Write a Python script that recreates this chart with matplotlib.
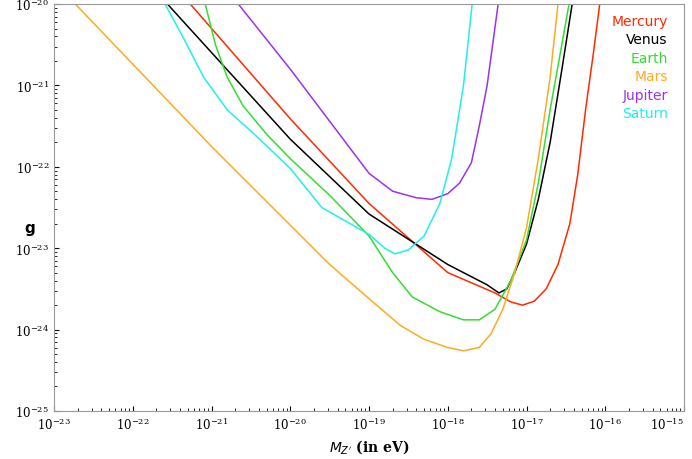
import numpy as np
import matplotlib.pyplot as plt

# log10 of mass (eV) and log10 of g
mercury_x = [-21.27, -20.0, -19.0, -18.0, -17.4, -17.2, -17.05, -16.9, -16.75, -16.6, -16.45, -16.35, -16.25, -16.15, -16.07]
mercury_y = [-20.0, -21.41, -22.45, -23.3, -23.55, -23.66, -23.7, -23.65, -23.5, -23.2, -22.7, -22.1, -21.3, -20.6, -20.0]
venus_x = [-21.56, -20.0, -19.0, -18.0, -17.5, -17.35, -17.25, -17.15, -17.0, -16.85, -16.7, -16.55, -16.42]
venus_y = [-20.0, -21.66, -22.58, -23.2, -23.45, -23.55, -23.5, -23.3, -22.95, -22.4, -21.7, -20.8, -20.0]
earth_x = [-21.08, -20.95, -20.8, -20.6, -20.3, -20.0, -19.5, -19.0, -18.7, -18.45, -18.1, -17.8,
           -17.6, -17.4, -17.2, -17.0, -16.85, -16.7, -16.57, -16.46]
earth_y = [-20.0, -20.5, -20.9, -21.25, -21.6, -21.9, -22.35, -22.85, -23.3, -23.6, -23.78, -23.88,
           -23.88, -23.75, -23.4, -22.9, -22.2, -21.3, -20.6, -20.0]
mars_x = [-22.73, -21.0, -19.5, -19.0, -18.6, -18.3, -18.0, -17.8, -17.6, -17.45, -17.3, -17.15,
          -17.0, -16.85, -16.7, -16.6]
mars_y = [-20.0, -21.75, -23.2, -23.62, -23.95, -24.12, -24.22, -24.26, -24.22, -24.05, -23.75, -23.3,
          -22.75, -21.9, -20.9, -20.0]
jupiter_x = [-20.66, -20.0, -19.0, -18.7, -18.4, -18.2, -18.0, -17.85, -17.7, -17.6, -17.5, -17.43, -17.36]
jupiter_y = [-20.0, -20.8, -22.08, -22.3, -22.38, -22.4, -22.33, -22.2, -21.95, -21.5, -21.0, -20.5, -20.0]
saturn_x = [-21.59, -21.35, -21.1, -20.8, -20.4, -20.0, -19.6, -19.0, -18.8, -18.67, -18.5, -18.3,
            -18.1, -17.95, -17.8, -17.69]
saturn_y = [-20.0, -20.43, -20.9, -21.3, -21.65, -22.02, -22.5, -22.83, -23.0, -23.07, -23.02, -22.85,
            -22.45, -21.9, -21.0, -20.0]

series = [
    ("Mercury", mercury_x, mercury_y, "#ff2a00"),
    ("Venus", venus_x, venus_y, "black"),
    ("Earth", earth_x, earth_y, "#33dd33"),
    ("Mars", mars_x, mars_y, "#ffaa22"),
    ("Jupiter", jupiter_x, jupiter_y, "#9933ee"),
    ("Saturn", saturn_x, saturn_y, "#22eeee"),
]

fig = plt.figure(figsize=(6.92, 4.6), dpi=100)
ax = fig.add_axes([54 / 692, 48 / 460, 630 / 692, 407 / 460])

for name, xs, ys, c in series:
    ax.plot(10.0 ** np.array(xs), 10.0 ** np.array(ys), color=c, lw=1.1)

ax.set_xscale("log")
ax.set_yscale("log")
ax.set_xlim(1e-23, 1e-15)
ax.set_ylim(1e-25, 1e-20)
ax.set_xticks([10.0 ** k for k in range(-23, -14)])
ax.set_yticks([10.0 ** k for k in range(-25, -19)])
ax.tick_params(labelsize=8.5, which="both", direction="in")
for lab in ax.get_xticklabels() + ax.get_yticklabels():
    lab.set_family("DejaVu Serif")
ax.get_xticklabels()[-1].set_horizontalalignment("right")
for s in ax.spines.values():
    s.set_color("#999999")

ax.set_xlabel(r"$M_{Z'}$ (in eV)", family="DejaVu Serif", fontweight="bold", fontsize=10)
fig.text(30 / 692, 0.5, r"$\mathbf{g}$", fontsize=11, ha="center", va="center")

for i, (name, xs, ys, c) in enumerate(series):
    fig.text(0.965, 0.952 - i * 0.04, name, color=c, ha="right", va="center", fontsize=10)

fig.savefig("out.png", dpi=100)
